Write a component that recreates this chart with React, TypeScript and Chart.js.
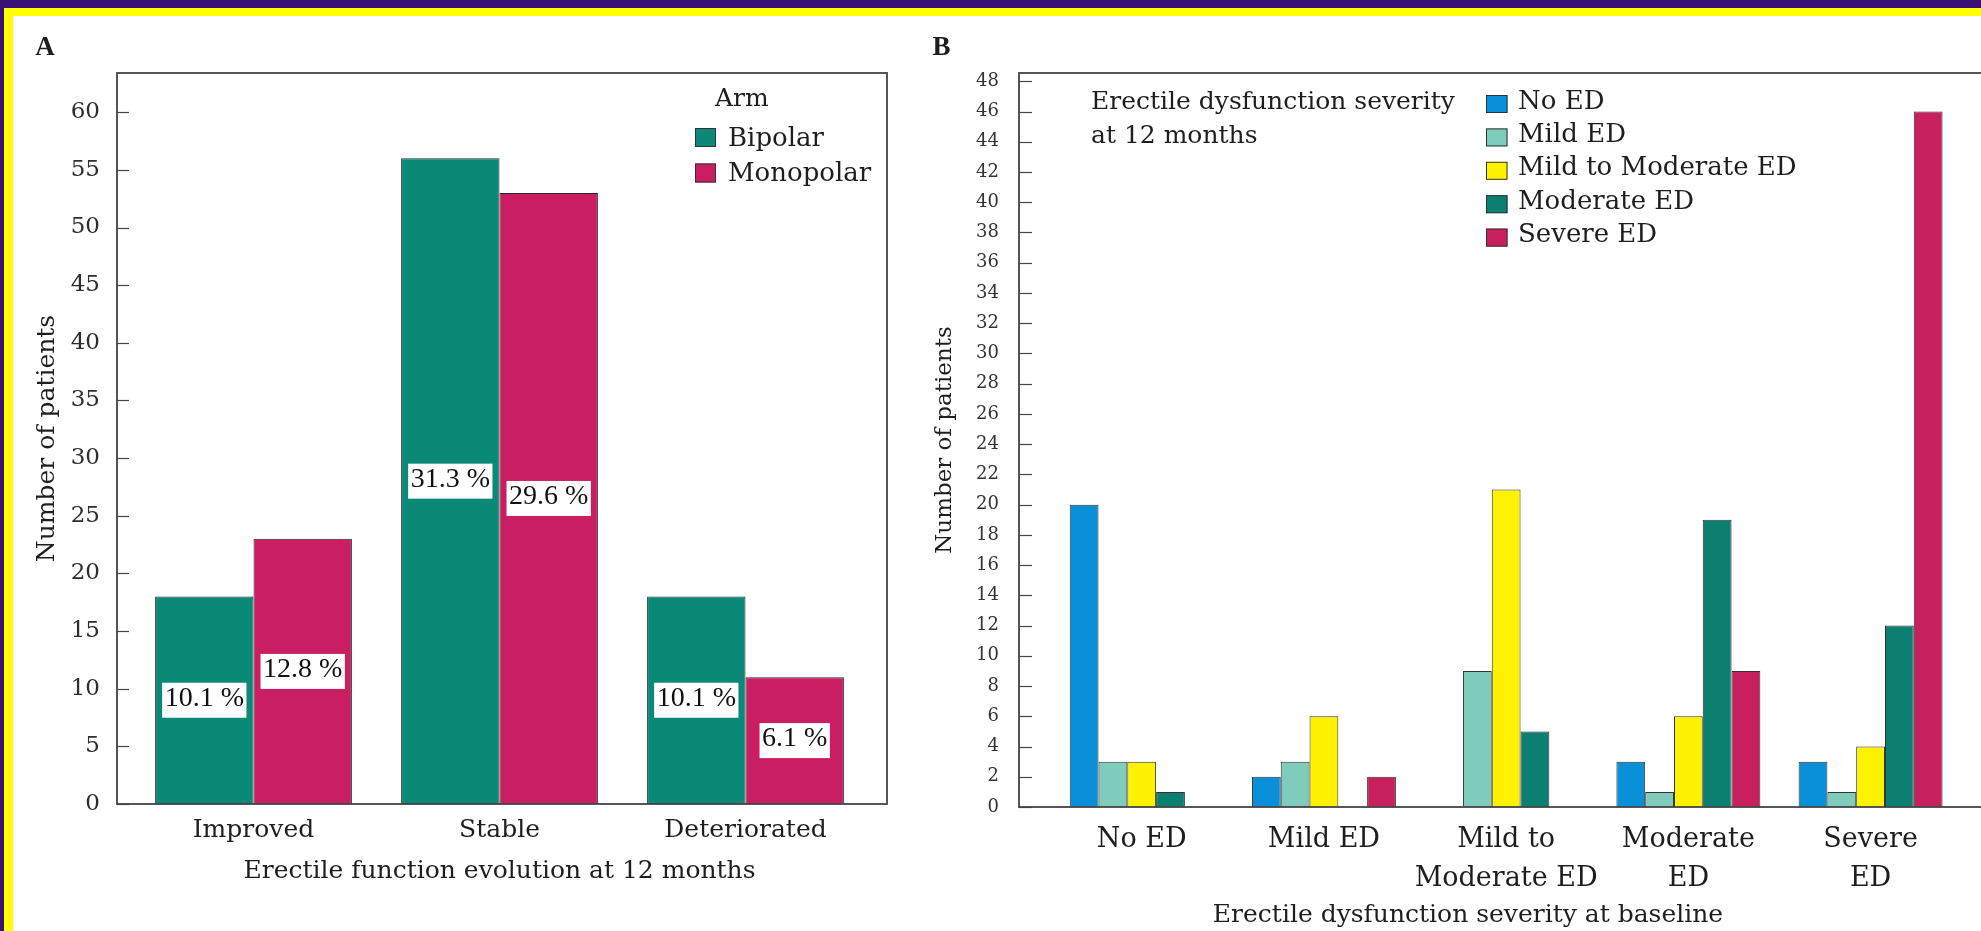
import React, { useEffect, useRef } from "react";
import { Chart, registerables } from "chart.js";

Chart.register(...registerables);

// Panel A: erectile function evolution by arm
const evolutionLabels = ["Improved", "Stable", "Deteriorated"];
const bipolarCounts = [18, 56, 18];
const monopolarCounts = [23, 53, 11];
const bipolarShare = ["10.1 %", "31.3 %", "10.1 %"];
const monopolarShare = ["12.8 %", "29.6 %", "6.1 %"];
const armNames = ["Bipolar", "Monopolar"];

// Panel B: severity at 12 months by severity at baseline
const baselineLabels = [["No ED"], ["Mild ED"], ["Mild to", "Moderate ED"], ["Moderate", "ED"], ["Severe", "ED"]];
const severityNames = ["No ED", "Mild ED", "Mild to Moderate ED", "Moderate ED", "Severe ED"];
const noEdAt12 = [20, 2, 0, 3, 3];
const mildEdAt12 = [3, 3, 9, 1, 1];
const mildModerateEdAt12 = [3, 6, 21, 6, 4];
const moderateEdAt12 = [1, 0, 5, 19, 12];
const severeEdAt12 = [0, 2, 0, 9, 46];

const serif = "'DejaVu Serif', serif";
const times = "'Liberation Serif', 'Times New Roman', serif";
const ink = "#1e1e1e";
const frameInk = "#444444";

const TEAL = "#0b8978";
const MAGENTA = "#c91e62";
const severityColors = ["#0a90d9", "#7fcbbc", "#fff200", "#0b8070", "#c8205f"];

const shares = [bipolarShare, monopolarShare];

const panelAPlugin = {
  id: "panelA",
  afterDatasetsDraw(chart: any) {
    const { ctx, chartArea: ca, scales } = chart;
    const y = scales.y;
    const L = ca.left - 13.5;
    const R = ca.right + 18.5;
    const T = ca.top;
    const B = ca.bottom;
    ctx.save();

    // percentage boxes in the middle of each bar
    chart.data.datasets.forEach((ds: any, di: number) => {
      const meta = chart.getDatasetMeta(di);
      meta.data.forEach((bar: any, i: number) => {
        const txt = shares[di][i];
        const cy = y.getPixelForValue(ds.data[i] / 2);
        ctx.font = `28px ${times}`;
        const w = ctx.measureText(txt).width;
        ctx.fillStyle = "#ffffff";
        ctx.fillRect(bar.x - w / 2 - 2.5, cy - 17.5, w + 5, 35);
        ctx.fillStyle = "#111";
        ctx.textAlign = "center";
        ctx.textBaseline = "middle";
        ctx.fillText(txt, bar.x, cy - 1.5);
      });
    });

    // plot frame with inward ticks
    ctx.strokeStyle = frameInk;
    ctx.lineWidth = 1.8;
    ctx.strokeRect(L, T, R - L, B - T);
    ctx.lineWidth = 1.2;
    y.ticks.forEach((t: any) => {
      const py = Math.round(y.getPixelForValue(t.value)) + 0.5;
      ctx.beginPath();
      ctx.moveTo(L, py);
      ctx.lineTo(L + 12, py);
      ctx.stroke();
    });

    // legend
    ctx.fillStyle = ink;
    ctx.textAlign = "left";
    ctx.textBaseline = "middle";
    ctx.font = `25px ${serif}`;
    ctx.fillText("Arm", R - 172, T + 26.5);
    chart.data.datasets.forEach((ds: any, i: number) => {
      const top = T + 55 + i * 35.5;
      ctx.fillStyle = ds.backgroundColor;
      ctx.fillRect(R - 192, top, 21, 19);
      ctx.strokeStyle = "#333";
      ctx.lineWidth = 1;
      ctx.strokeRect(R - 191.5, top + 0.5, 20, 18);
      ctx.fillStyle = ink;
      ctx.font = `26px ${serif}`;
      ctx.fillText(ds.label, R - 159, T + 66 + i * 35);
    });

    // panel letter
    ctx.font = `bold 27px ${times}`;
    ctx.textAlign = "center";
    ctx.fillText("A", L - 72, T - 25);
    ctx.restore();
  },
};

const panelBPlugin = {
  id: "panelB",
  afterDatasetsDraw(chart: any) {
    const { ctx, chartArea: ca, scales } = chart;
    const y = scales.y;
    const L = ca.left - 31.6;
    const R = chart.width + 10;
    const T = ca.top;
    const B = ca.bottom;
    ctx.save();

    // frame (right side runs past the page edge)
    ctx.strokeStyle = frameInk;
    ctx.lineWidth = 1.8;
    ctx.strokeRect(L, T, R - L, B - T);
    ctx.lineWidth = 1.2;
    y.ticks.forEach((t: any) => {
      const py = Math.round(y.getPixelForValue(t.value)) + 0.5;
      ctx.beginPath();
      ctx.moveTo(L, py);
      ctx.lineTo(L + 13, py);
      ctx.stroke();
    });

    // legend title
    ctx.fillStyle = ink;
    ctx.textAlign = "left";
    ctx.textBaseline = "middle";
    ctx.font = `25px ${serif}`;
    ctx.fillText("Erectile dysfunction severity", L + 72, T + 29.7);
    ctx.fillText("at 12 months", L + 72, T + 63.2);

    // legend entries
    chart.data.datasets.forEach((ds: any, i: number) => {
      const top = T + 22 + i * 33.4;
      ctx.fillStyle = ds.backgroundColor;
      ctx.fillRect(L + 467, top, 21.5, 18);
      ctx.strokeStyle = "#333";
      ctx.lineWidth = 1;
      ctx.strokeRect(L + 467.5, top + 0.5, 20.5, 17);
      ctx.fillStyle = ink;
      ctx.font = `26px ${serif}`;
      ctx.fillText(ds.label, L + 499, T + 28.9 + i * 33.4);
    });

    // x-axis title
    ctx.font = `25px ${serif}`;
    ctx.textAlign = "center";
    ctx.fillText("Erectile dysfunction severity at baseline", L + 449, B + 108);

    // panel letter
    ctx.font = `bold 27px ${times}`;
    ctx.fillText("B", L - 77.5, T - 25);
    ctx.restore();
  },
};

function PanelA() {
  const ref = useRef<HTMLCanvasElement | null>(null);
  useEffect(() => {
    if (!ref.current) return;
    const chart = new Chart(ref.current, {
      type: "bar",
      data: {
        labels: evolutionLabels,
        datasets: [
          { label: armNames[0], data: bipolarCounts, backgroundColor: TEAL, borderColor: "#2a2a2a", borderWidth: 1 },
          { label: armNames[1], data: monopolarCounts, backgroundColor: MAGENTA, borderColor: "#2a2a2a", borderWidth: 1 },
        ],
      },
      options: {
        responsive: false,
        animation: false,
        datasets: { bar: { barPercentage: 1, categoryPercentage: 0.8 } },
        layout: { padding: { left: 0, top: 73, right: 31.5, bottom: 0 } },
        plugins: { legend: { display: false }, tooltip: { enabled: false } },
        scales: {
          x: {
            offset: true,
            grid: { display: false, drawTicks: false },
            border: { display: false },
            ticks: { font: { family: serif, size: 25 }, color: ink, padding: 11, maxRotation: 0, autoSkip: false },
            title: {
              display: true,
              text: "Erectile function evolution at 12 months",
              font: { family: serif, size: 25 },
              color: ink,
              padding: { top: 0, bottom: 44.5 },
            },
            afterFit: (s: any) => {
              s.height = 127;
            },
          },
          y: {
            min: 0,
            max: 63.4,
            grid: { display: false, drawTicks: false },
            border: { display: false },
            ticks: { stepSize: 5, includeBounds: false, font: { family: serif, size: 23 }, color: "#2e2e2e", padding: 30.5 },
            title: {
              display: true,
              text: "Number of patients",
              font: { family: serif, size: 25 },
              color: ink,
              padding: { top: 32, bottom: 0 },
            },
            afterFit: (s: any) => {
              s.width = 130.5;
            },
          },
        },
      },
      plugins: [panelAPlugin],
    } as any);
    return () => chart.destroy();
  }, []);
  return (
    <canvas
      ref={ref}
      width={900}
      height={931}
      style={{ position: "absolute", left: 0, top: 0, width: 900, height: 931 }}
    />
  );
}

function PanelB() {
  const ref = useRef<HTMLCanvasElement | null>(null);
  useEffect(() => {
    if (!ref.current) return;
    const series = [noEdAt12, mildEdAt12, mildModerateEdAt12, moderateEdAt12, severeEdAt12];
    const chart = new Chart(ref.current, {
      type: "bar",
      data: {
        labels: baselineLabels,
        datasets: series.map((d, i) => ({
          label: severityNames[i],
          data: d,
          backgroundColor: severityColors[i],
          borderColor: "#333",
          borderWidth: 1,
        })),
      },
      options: {
        responsive: false,
        animation: false,
        datasets: { bar: { barPercentage: 1, categoryPercentage: 0.79 } },
        layout: { padding: { left: 0, top: 73, right: 19.3, bottom: 0 } },
        plugins: { legend: { display: false }, tooltip: { enabled: false } },
        scales: {
          x: {
            offset: true,
            grid: { display: false, drawTicks: false },
            border: { display: false },
            ticks: {
              font: { family: serif, size: 27, lineHeight: 1.45 },
              color: ink,
              padding: 13.2,
              maxRotation: 0,
              autoSkip: false,
            },
            afterFit: (s: any) => {
              s.height = 124;
            },
          },
          y: {
            min: 0,
            max: 48.55,
            grid: { display: false, drawTicks: false },
            border: { display: false },
            ticks: { stepSize: 2, includeBounds: false, font: { family: serif, size: 18 }, color: "#333", padding: 51.6 },
            title: {
              display: true,
              text: "Number of patients",
              font: { family: serif, size: 23 },
              color: ink,
              padding: { top: 31.2, bottom: 0 },
            },
            afterFit: (s: any) => {
              s.width = 150.6;
            },
          },
        },
      },
      plugins: [panelBPlugin],
    } as any);
    return () => chart.destroy();
  }, []);
  return (
    <canvas
      ref={ref}
      width={1081}
      height={931}
      style={{ position: "absolute", left: 900, top: 0, width: 1081, height: 931 }}
    />
  );
}

export default function App() {
  return (
    <div
      style={{
        position: "fixed",
        left: 0,
        top: 0,
        width: 1981,
        height: 931,
        overflow: "hidden",
        background: "#ffff00",
      }}
    >
      <div style={{ position: "absolute", left: 0, top: 0, width: 1981, height: 8, background: "#3a1275" }} />
      <div style={{ position: "absolute", left: 0, top: 0, width: 4, height: 931, background: "#3a1275" }} />
      <div style={{ position: "absolute", left: 13, top: 16, right: 0, bottom: 0, background: "#ffffff" }} />
      <PanelA />
      <PanelB />
    </div>
  );
}
